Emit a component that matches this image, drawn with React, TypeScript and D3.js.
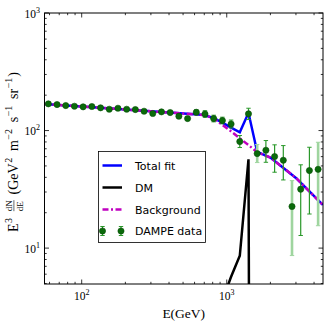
import React, { useEffect, useRef } from "react";
import * as d3 from "d3";

// DAMPE e+e- data points (bin centre energy in GeV, E^3 dN/dE)
const energies = [
  58.9, 67.6, 77.6, 89.1, 102.3, 117.5, 134.9, 154.9, 177.8, 204.2, 234.4,
  269.2, 309.0, 354.8, 407.4, 467.7, 537.0, 616.6, 707.9, 812.8, 933.3,
  1071.5, 1230.3, 1412.5, 1621.8, 1862.1, 2138.0, 2454.7, 2818.4, 3235.9,
  3715.4, 4265.8,
];
const flux = [
  168.7, 166.4, 163.2, 161.0, 159.1, 160.1, 156.1, 151.8, 154.8, 151.8, 150.9,
  146.0, 139.6, 144.2, 142.3, 132.4, 126.5, 143.1, 138.2, 126.5, 121.7, 113.6,
  80.6, 138.7, 63.7, 68.0, 60.1, 55.9, 22.6, 31.7, 45.7, 46.8,
];
const errLow = [
  165.5, 163.2, 160.0, 157.9, 156.0, 157.0, 153.0, 148.8, 151.8, 148.8, 147.9,
  143.0, 136.5, 141.0, 139.0, 128.5, 122.7, 136.2, 129.5, 118.6, 114.1, 105.1,
  71.7, 124.1, 53.4, 53.7, 44.2, 38.0, 8.64, 12.8, 19.5, 15.5,
];
const errHigh = [
  172.0, 169.6, 166.4, 164.2, 162.3, 163.3, 159.2, 154.8, 157.9, 154.8, 153.9,
  149.0, 142.8, 147.5, 145.6, 136.4, 130.4, 150.3, 147.5, 135.0, 129.9, 122.8,
  90.7, 154.8, 76.0, 82.2, 75.6, 74.5, 37.5, 51.1, 72.1, 79.5,
];
// points whose bars are drawn in the pale green
const paleBars = [24, 28, 31];

// fitted curves
const modelEnergies = [
  55, 100, 200, 400, 600, 700, 812.8, 933.3, 1071.5, 1230.3, 1412.5, 1621.8,
  2000, 3000, 4600,
];
const backgroundFlux = [
  168.1, 160.1, 150.9, 142.3, 137.4, 135.5, 127.0, 111.8, 98.4, 85.8, 75.2,
  65.6, 58.9, 39.5, 23.3,
];
const totalFlux = [
  168.1, 160.1, 150.9, 142.3, 137.4, 135.5, 127.5, 116.7, 106.0, 96.7, 141.5,
  65.8, 58.9, 39.5, 23.3,
];
const dmEnergies = [933.3, 1071.5, 1230.3, 1412.5, 1440];
const dmFlux = [3.6, 5.7, 8.6, 57, 0.05];

const xTicks = [100, 1000];
const yTicks = [10, 100, 1000];
const legendLabels = ["Total fit", "DM", "Background", "DAMPE data"];

const serif = "'Liberation Serif', 'DejaVu Serif', serif";
const sans = "'DejaVu Sans', sans-serif";

function App() {
  const ref = useRef<SVGSVGElement>(null);

  useEffect(() => {
    const svg = d3.select(ref.current);
    svg.selectAll("*").remove();

    const left = 44.5, right = 323, top = 13, bottom = 284;
    const x = d3.scaleLog().domain([55.4, 4610]).range([left, right]);
    const y = d3.scaleLog().domain([4.95, 1000]).range([bottom, top]);

    svg.append("rect").attr("width", 327).attr("height", 327).attr("fill", "#fff");

    svg
      .append("clipPath")
      .attr("id", "plotClip")
      .append("rect")
      .attr("x", left)
      .attr("y", top)
      .attr("width", right - left)
      .attr("height", bottom - top);

    const plot = svg.append("g").attr("clip-path", "url(#plotClip)");

    const line = d3
      .line<[number, number]>()
      .x((d) => x(d[0]))
      .y((d) => y(Math.max(d[1], 0.01)));

    plot
      .append("path")
      .datum(modelEnergies.map((e, i) => [e, totalFlux[i]] as [number, number]))
      .attr("d", line)
      .attr("fill", "none")
      .attr("stroke", "#0000ff")
      .attr("stroke-width", 2.5);

    plot
      .append("path")
      .datum(modelEnergies.map((e, i) => [e, backgroundFlux[i]] as [number, number]))
      .attr("d", line)
      .attr("fill", "none")
      .attr("stroke", "#c000c0")
      .attr("stroke-width", 2.5)
      .attr("stroke-dasharray", "6,2.5,2,2.5");

    plot
      .append("path")
      .datum(dmEnergies.map((e, i) => [e, dmFlux[i]] as [number, number]))
      .attr("d", line)
      .attr("fill", "none")
      .attr("stroke", "#000")
      .attr("stroke-width", 2.5);

    // error bars
    energies.forEach((e, i) => {
      const pale = paleBars.includes(i);
      const col = pale ? "#9fd59f" : "#2a982a";
      const w = pale ? 2.6 : 1.2;
      const cx = x(e);
      plot
        .append("line")
        .attr("x1", cx)
        .attr("x2", cx)
        .attr("y1", y(errLow[i]))
        .attr("y2", y(errHigh[i]))
        .attr("stroke", col)
        .attr("stroke-width", w);
      [errLow[i], errHigh[i]].forEach((v) => {
        plot
          .append("line")
          .attr("x1", cx - 2.2)
          .attr("x2", cx + 2.2)
          .attr("y1", y(v))
          .attr("y2", y(v))
          .attr("stroke", col)
          .attr("stroke-width", 1);
      });
    });

    plot
      .selectAll(".pt")
      .data(energies)
      .enter()
      .append("circle")
      .attr("class", "pt")
      .attr("cx", (d) => x(d))
      .attr("cy", (d, i) => y(flux[i]))
      .attr("r", 3.1)
      .attr("fill", "#0a6a0a")
      .attr("stroke", "#064d06")
      .attr("stroke-width", 0.6);

    // frame
    svg
      .append("rect")
      .attr("x", left)
      .attr("y", top)
      .attr("width", right - left)
      .attr("height", bottom - top)
      .attr("fill", "none")
      .attr("stroke", "#000")
      .attr("stroke-width", 1);

    // ticks (inward on all four sides)
    const xMinor: number[] = [];
    const yMinor: number[] = [];
    [10, 100, 1000].forEach((dec) => {
      for (let k = 2; k <= 9; k++) {
        if (dec * k > 55.4 && dec * k < 4610) xMinor.push(dec * k);
      }
    });
    [1, 10, 100].forEach((dec) => {
      for (let k = 2; k <= 9; k++) {
        if (dec * k > 4.95 && dec * k < 1000) yMinor.push(dec * k);
      }
    });
    const tickG = svg.append("g").attr("stroke", "#000").attr("stroke-width", 0.8);
    const xTickSet = xTicks.map((v) => [v, 4.5]).concat(xMinor.map((v) => [v, 2.2]));
    xTickSet.forEach(([v, len]) => {
      tickG.append("line").attr("x1", x(v)).attr("x2", x(v)).attr("y1", bottom).attr("y2", bottom - len);
      tickG.append("line").attr("x1", x(v)).attr("x2", x(v)).attr("y1", top).attr("y2", top + len);
    });
    const yTickSet = yTicks.map((v) => [v, 4.5]).concat(yMinor.map((v) => [v, 2.2]));
    yTickSet.forEach(([v, len]) => {
      tickG.append("line").attr("x1", left).attr("x2", left + len).attr("y1", y(v)).attr("y2", y(v));
      tickG.append("line").attr("x1", right).attr("x2", right - len).attr("y1", y(v)).attr("y2", y(v));
    });

    // tick labels
    xTicks.forEach((v) => {
      const t = svg
        .append("text")
        .attr("x", x(v))
        .attr("y", 300)
        .attr("text-anchor", "middle")
        .style("font-family", serif)
        .style("font-size", "11.5px");
      t.append("tspan").text("10");
      t.append("tspan").attr("dy", -5).style("font-size", "8px").text(String(Math.round(Math.log10(v))));
    });
    yTicks.forEach((v) => {
      const t = svg
        .append("text")
        .attr("x", 40)
        .attr("y", y(v) + 4.5)
        .attr("text-anchor", "end")
        .style("font-family", serif)
        .style("font-size", "11.5px");
      t.append("tspan").text("10");
      t.append("tspan").attr("dy", -5).style("font-size", "8px").text(String(Math.round(Math.log10(v))));
    });

    // x label
    svg
      .append("text")
      .attr("x", (left + right) / 2)
      .attr("y", 318)
      .attr("text-anchor", "middle")
      .style("font-family", serif)
      .style("font-size", "13.5px")
      .text("E(GeV)");

    // y label, built from pieces so the fraction can be stacked
    const yl = svg.append("g");
    const parts: { txt: string; size: number; dy: number; gap: number; frac?: boolean }[] = [
      { txt: "E", size: 14, dy: 0, gap: 0 },
      { txt: "3", size: 10, dy: -6, gap: 0.5 },
      { txt: "", size: 9, dy: 0, gap: 3, frac: true },
      { txt: "(GeV", size: 14, dy: 0, gap: 2 },
      { txt: "2", size: 10, dy: -6, gap: 0.5 },
      { txt: "m", size: 14, dy: 0, gap: 3 },
      { txt: "\u22122", size: 10, dy: -6, gap: 0.5 },
      { txt: "s", size: 14, dy: 0, gap: 3 },
      { txt: "\u22121", size: 10, dy: -6, gap: 0.5 },
      { txt: "sr", size: 14, dy: 0, gap: 3 },
      { txt: "\u22121", size: 10, dy: -6, gap: 0.5 },
      { txt: ")", size: 14, dy: 0, gap: 1 },
    ];
    const nodes: { sel: d3.Selection<any, unknown, null, undefined>[]; w: number; gap: number }[] = [];
    parts.forEach((p) => {
      if (p.frac) {
        const num = yl.append("text").attr("y", -6)
          .style("font-family", serif).style("font-size", `${p.size}px`).text("dN");
        const den = yl.append("text").attr("y", 5.5)
          .style("font-family", serif).style("font-size", `${p.size}px`).text("dE");
        const bar = yl.append("line").attr("y1", -3.6).attr("y2", -3.6)
          .attr("stroke", "#000").attr("stroke-width", 0.6);
        const w = Math.max(
          (num.node() as SVGTextElement).getComputedTextLength(),
          (den.node() as SVGTextElement).getComputedTextLength()
        );
        nodes.push({ sel: [num, den, bar], w, gap: p.gap });
      } else {
        const t = yl.append("text").attr("y", p.dy)
          .style("font-family", serif).style("font-size", `${p.size}px`).text(p.txt);
        nodes.push({ sel: [t], w: (t.node() as SVGTextElement).getComputedTextLength(), gap: p.gap });
      }
    });
    const targetLen = 160;
    const natural = nodes.reduce((s, n) => s + n.w + n.gap, 0);
    const spreadGaps = nodes.filter((n) => n.gap >= 2).length;
    const extra = Math.max(0, (targetLen - natural) / spreadGaps);
    let cursor = 0;
    nodes.forEach((n) => {
      cursor += n.gap + (n.gap >= 2 ? extra : 0);
      n.sel.forEach((s) => {
        if (s.node().tagName === "line") s.attr("x1", cursor).attr("x2", cursor + n.w);
        else s.attr("x", cursor);
      });
      cursor += n.w;
    });
    yl.attr("transform", `translate(17.5, ${152 + cursor / 2}) rotate(-90)`);

    // legend
    const lg = svg.append("g");
    lg.append("rect")
      .attr("x", 98.5)
      .attr("y", 151.5)
      .attr("width", 107)
      .attr("height", 91)
      .attr("fill", "#fff")
      .attr("stroke", "#000")
      .attr("stroke-width", 0.8);
    const rowY = [165.5, 187.5, 209.5, 231];
    const styles = [
      { stroke: "#0000ff", dash: null },
      { stroke: "#000", dash: null },
      { stroke: "#c000c0", dash: "6,2.5,2,2.5" },
    ];
    styles.forEach((s, i) => {
      lg.append("line")
        .attr("x1", 102.5)
        .attr("x2", 122)
        .attr("y1", rowY[i])
        .attr("y2", rowY[i])
        .attr("stroke", s.stroke)
        .attr("stroke-width", 2.5)
        .attr("stroke-dasharray", s.dash);
    });
    [102.5, 121].forEach((mx) => {
      const ry = rowY[3];
      lg.append("line").attr("x1", mx).attr("x2", mx).attr("y1", ry - 4.5).attr("y2", ry + 4.5)
        .attr("stroke", "#2a982a").attr("stroke-width", 1.2);
      [ry - 4.5, ry + 4.5].forEach((cy) =>
        lg.append("line").attr("x1", mx - 2.2).attr("x2", mx + 2.2).attr("y1", cy).attr("y2", cy)
          .attr("stroke", "#2a982a").attr("stroke-width", 1)
      );
      lg.append("circle").attr("cx", mx).attr("cy", ry).attr("r", 3.1)
        .attr("fill", "#0a6a0a").attr("stroke", "#064d06").attr("stroke-width", 0.6);
    });
    legendLabels.forEach((lab, i) => {
      lg.append("text")
        .attr("x", 135)
        .attr("y", rowY[i] + 4)
        .style("font-family", sans)
        .style("font-size", "11px")
        .text(lab);
    });
  }, []);

  return (
    <svg
      ref={ref}
      width={327}
      height={327}
      style={{ position: "absolute", left: 0, top: 0 }}
    ></svg>
  );
}

export default App;
